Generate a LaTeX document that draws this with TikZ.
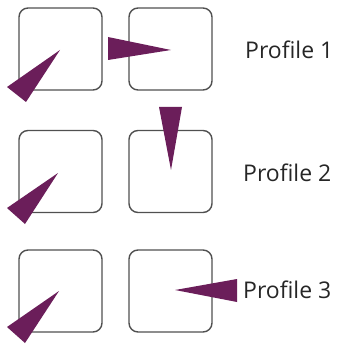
\documentclass[tikz,border=0pt]{standalone}
\usepackage{fontspec}
\setmainfont{Open Sans}
\definecolor{plum}{HTML}{6B1E5A}
\definecolor{boxgray}{HTML}{505050}
\tikzset{
  cell/.style={draw=boxgray, line width=1.4pt, rounded corners=9pt, minimum width=83pt, minimum height=82pt, inner sep=0pt},
  wedge/.style={fill=plum, draw=none},
  lab/.style={font=\fontsize{23}{26}\selectfont, text=black!85, anchor=west, inner sep=0pt}
}
\begin{document}
\begin{tikzpicture}[x=1pt,y=-1pt]
\useasboundingbox (0,0) rectangle (341,347);
\node[cell] (a1) at (60.5,49) {};
\node[cell] (b1) at (170.5,49) {};
\node[cell] (a2) at (60.5,171.5) {};
\node[cell] (b2) at (170.5,171.5) {};
\node[cell] (a3) at (60.5,291) {};
\node[cell] (b3) at (170.5,291) {};
% wedges
\fill[wedge] (60,50) -- (7,87) -- (26,102) -- cycle;
\fill[wedge] (171,50) -- (108,37) -- (108,60) -- cycle;
\fill[wedge] (58,173) -- (7,208) -- (25,224) -- cycle;
\fill[wedge] (171,170) -- (159,107) -- (182,107) -- cycle;
\fill[wedge] (59,291) -- (7,327) -- (25,343) -- cycle;
\fill[wedge] (175,290) -- (237,279) -- (237,302) -- cycle;
\node[lab] (p1) at (245,50) {Profile 1};
\node[lab] (p2) at (243,173) {Profile 2};
\node[lab] (p3) at (243,290) {Profile 3};
\end{tikzpicture}
\end{document}
